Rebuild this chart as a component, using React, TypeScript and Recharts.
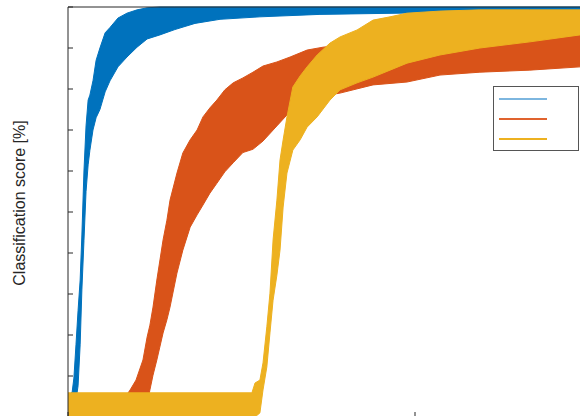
import React from 'react';
import { ComposedChart, Area, XAxis, YAxis, ReferenceLine } from 'recharts';

// x = training progress (arbitrary units, 0..200), values = classification score [%]
const blueX = [0, 0.6, 1.2, 1.7, 2.3, 2.9, 3.5, 4.0, 4.6, 5.2, 5.8, 6.3, 7.2, 8.1, 9.2, 10.7, 12.1, 14.4, 17.0, 19.9, 22.8, 26.5, 30.8, 36.6, 43.8, 55.3, 72.6, 95.7, 124.5, 147.6, 200];
const blueHigh = [5.5, 5.5, 6.1, 9.5, 17.6, 26, 33.4, 44.4, 60, 71, 77.3, 78.5, 82, 87, 90, 93.7, 95, 97.3, 98.5, 99.3, 99.8, 100, 100, 100, 100, 100, 100, 100, 100, 100, 100];
const blueLow = [0, 0, 0, 0, 4, 7.6, 17.6, 31, 43, 55, 61.5, 65, 70, 73, 75, 79.3, 82, 85.4, 87.8, 90.2, 92.2, 93.2, 94.5, 96, 97, 97.6, 98.2, 98.5, 98.8, 99, 99];

const orangeX = [0, 17.0, 17.9, 19.6, 21.6, 22.8, 23.6, 24.5, 25.6, 27.4, 28.5, 29.4, 31.4, 33.1, 35.2, 37.2, 38.9, 40.9, 42.9, 45.2, 47.6, 50.4, 53.3, 56.2, 60.2, 64.0, 68.9, 73.5, 78.4, 87.9, 97.7, 107.2, 118.7, 133.1, 147.6, 200];
const orangeHigh = [5.5, 5.5, 6.6, 9, 13.9, 19.5, 22.4, 26.8, 33.4, 43.2, 48, 52.9, 59.5, 64.4, 67.6, 70, 73.2, 75.4, 77.3, 79.8, 81.5, 82.7, 84.1, 85.6, 86.6, 87.8, 89.5, 90.2, 90.7, 91.5, 92, 92.4, 93.2, 93.7, 94.4, 95.4];
const orangeLow = [0, 0, 0, 0, 0, 3, 6.6, 10.2, 13.9, 20.5, 23.7, 26.8, 35.1, 40.7, 46.3, 49.3, 51.7, 54.6, 57, 59.8, 62, 64.5, 65.3, 67.3, 71, 74.5, 77, 78.3, 79, 81, 81.7, 83.4, 84.1, 84.6, 85.4, 87];

const yellowX = [0, 53.0, 53.9, 55.3, 56.2, 57.3, 58.2, 59.1, 60.2, 61.1, 62.0, 63.1, 64.8, 66.9, 68.9, 71.8, 75.5, 78.4, 83.3, 87.9, 92.8, 97.7, 107.2, 118.7, 133.1, 147.6, 200];
const yellowHigh = [5.9, 5.9, 8.3, 9, 13.2, 22, 30.2, 43.2, 52.9, 62.7, 67.6, 73.2, 80.5, 83.2, 85.4, 88.3, 91.2, 92.7, 94.4, 96.8, 97.6, 98.5, 99, 99.3, 99.3, 99.3, 99.5];
const yellowLow = [0, 0, 0, 1, 6.6, 12.2, 20.5, 28.5, 34.6, 40.7, 51.2, 59.5, 65.1, 67.6, 70.7, 73.2, 77.3, 79.8, 81.5, 82.9, 84.6, 86.3, 88.3, 90, 91.5, 93.2, 94.4];

const yTicks = [0, 10, 20, 30, 40, 50, 60, 70, 80, 90, 100];
const xTicks = [0, 100, 200];

const series = [
  { id: 'a', color: '#0072BD', legendColor: '#7db6df', x: blueX, low: blueLow, high: blueHigh },
  { id: 'b', color: '#D95319', legendColor: '#e0632e', x: orangeX, low: orangeLow, high: orangeHigh },
  { id: 'c', color: '#EDB120', legendColor: '#EDB120', x: yellowX, low: yellowLow, high: yellowHigh },
];

const toRows = (x: number[], low: number[], high: number[]) =>
  x.map((v, i) => ({ x: v, range: [low[i], high[i]] }));

const AXIS = '#262626';
const NoLabel = () => <g />;

export default function App() {
  return (
    <div
      style={{
        position: 'absolute',
        left: 0,
        top: 0,
        width: 580,
        height: 416,
        overflow: 'hidden',
        background: '#fff',
      }}
    >
      <ComposedChart
        width={780}
        height={430}
        margin={{ top: 7, left: 68, right: 18, bottom: 13 }}
      >
        {series.map(s => (
          <Area
            key={s.id}
            data={toRows(s.x, s.low, s.high)}
            dataKey="range"
            type="linear"
            stroke={s.color}
            strokeWidth={1}
            fill={s.color}
            fillOpacity={1}
            isAnimationActive={false}
            dot={false}
            activeDot={false}
          />
        ))}
        <XAxis
          type="number"
          dataKey="x"
          domain={[0, 200]}
          ticks={xTicks}
          mirror
          tick={NoLabel}
          tickSize={5}
          stroke={AXIS}
        />
        <YAxis
          type="number"
          domain={[0, 100]}
          ticks={yTicks}
          mirror
          tick={NoLabel}
          tickSize={5}
          stroke={AXIS}
        />
        <ReferenceLine y={100} stroke={AXIS} strokeWidth={1} ifOverflow="visible" />
      </ComposedChart>

      {/* legend box (labels fall outside the crop) */}
      <div
        style={{
          position: 'absolute',
          left: 493,
          top: 86,
          width: 84,
          height: 63,
          border: '1px solid #555',
          background: '#fff',
        }}
      >
        {series.map((s, i) => (
          <div
            key={s.id}
            style={{
              position: 'absolute',
              left: 5,
              top: 11 + i * 19.8,
              width: 48,
              height: 2,
              background: s.legendColor,
            }}
          />
        ))}
      </div>

      <div
        style={{
          position: 'absolute',
          left: 20,
          top: 203,
          transform: 'translate(-50%, -50%) rotate(-90deg)',
          whiteSpace: 'nowrap',
          fontFamily: '"Liberation Sans", Arial, sans-serif',
          fontSize: 16,
          color: AXIS,
        }}
      >
        Classification score [%]
      </div>
    </div>
  );
}
